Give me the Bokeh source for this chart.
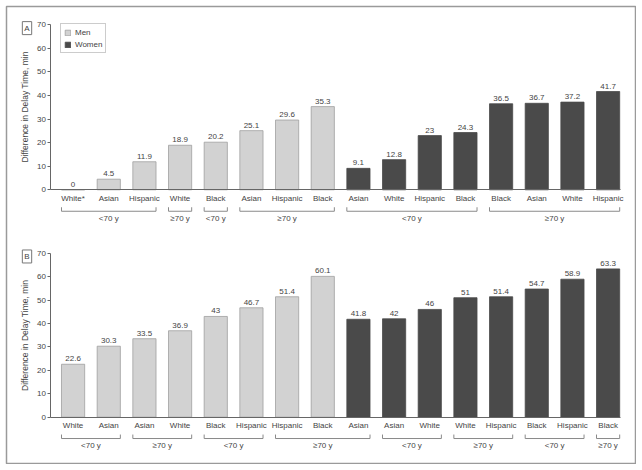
from bokeh.plotting import figure
from bokeh.models import Range1d, FixedTicker, Label, Legend, LegendItem, LinearAxis
from bokeh.core.properties import value
from bokeh.embed import file_html
from bokeh.resources import INLINE

# ---------------- data ----------------
a_categories = ["White*", "Asian", "Hispanic", "White", "Black", "Asian", "Hispanic", "Black",
                "Asian", "White", "Hispanic", "Black", "Black", "Asian", "White", "Hispanic"]
a_men = [0, 4.5, 11.9, 18.9, 20.2, 25.1, 29.6, 35.3]
a_women = [9.1, 12.8, 23, 24.3, 36.5, 36.7, 37.2, 41.7]
a_groups = [(0, 2, "<70 y"), (3, 3, "≥70 y"), (4, 4, "<70 y"), (5, 7, "≥70 y"),
            (8, 11, "<70 y"), (12, 15, "≥70 y")]

b_categories = ["White", "Asian", "Asian", "White", "Black", "Hispanic", "Hispanic", "Black",
                "Asian", "Asian", "White", "White", "Hispanic", "Black", "Hispanic", "Black"]
b_men = [22.6, 30.3, 33.5, 36.9, 43, 46.7, 51.4, 60.1]
b_women = [41.8, 42, 46, 51, 51.4, 54.7, 58.9, 63.3]
b_groups = [(0, 1, "<70 y"), (2, 3, "≥70 y"), (4, 5, "<70 y"), (6, 8, "≥70 y"),
            (9, 10, "<70 y"), (11, 12, "≥70 y"), (13, 14, "<70 y"), (15, 15, "≥70 y")]

y_ticks = [0, 10, 20, 30, 40, 50, 60, 70]
y_title = "Difference in Delay Time, min"

FONT = "'Liberation Sans Narrow', 'Liberation Sans', sans-serif"
FS = "8px"
TXT = "#444444"
AXC = "#666666"
LIGHT = "#d2d2d2"
LIGHT_LINE = "#a0a0a0"
DARK = "#4a4a4a"
BW = 0.65

p = figure(width=636, height=464, min_border_left=6, min_border_top=6,
           min_border_right=1, min_border_bottom=1,
           x_range=Range1d(-1.867, 15.768), y_range=Range1d(-19.76, 175.29),
           x_axis_location=None, y_axis_location=None,
           output_backend="svg", toolbar_location=None, tools="")
p.extra_y_ranges = {"a": Range1d(-116.12, 77.77)}
p.title.visible = False
p.grid.visible = False
p.outline_line_color = "#9a9a9a"
p.outline_line_width = 1.5


def panel(tag, rng, categories, men, women, groups):
    kw = {} if rng == "default" else {"y_range_name": rng}
    xm = list(range(len(men)))
    xw = list(range(len(men), len(men) + len(women)))
    rm = p.vbar(x=xm, top=men, width=BW, fill_color=LIGHT, line_color=LIGHT_LINE,
                line_width=0.8, **kw)
    rw = p.vbar(x=xw, top=women, width=BW, fill_color=DARK, line_color=DARK,
                line_width=0.8, **kw)

    vals = men + women
    p.text(x=xm + xw, y=vals, text=[("%g" % v) for v in vals], text_align="center",
           text_baseline="bottom", y_offset=-3, text_font=value(FONT), text_font_size=FS,
           text_color=TXT, **kw)

    # brackets and group labels
    bx0, bx1, by0, by1, gx, gt = [], [], [], [], [], []
    yb, yt, yl = -9.1, -7.4, -12.1
    for s, e, name in groups:
        l, r = s - BW / 2, e + BW / 2
        bx0 += [l, l, r]
        bx1 += [r, l, r]
        by0 += [yb, yb, yb]
        by1 += [yb, yt, yt]
        gx.append((s + e) / 2)
        gt.append(name)
    p.segment(x0=bx0, y0=by0, x1=bx1, y1=by1, line_color="#8a8a8a", line_width=1, **kw)
    p.text(x=gx, y=[yl] * len(gx), text=gt, text_align="center", text_baseline="middle",
           text_font=value(FONT), text_font_size=FS, text_color=TXT, **kw)

    # x axis at y = 0
    xa = LinearAxis(fixed_location=0, bounds=(-0.62, 15.36),
                    ticker=FixedTicker(ticks=list(range(len(categories)))),
                    major_label_overrides={i: c for i, c in enumerate(categories)},
                    major_tick_line_color=None, minor_tick_line_color=None,
                    major_tick_out=0, major_tick_in=0, major_label_standoff=4,
                    axis_line_color=AXC, major_label_text_font=FONT,
                    major_label_text_font_size=FS, major_label_text_color=TXT, **kw)
    p.add_layout(xa, "below")

    # y axis at left of bars
    ya = LinearAxis(fixed_location=-0.62, bounds=(0, 70), ticker=FixedTicker(ticks=y_ticks),
                    minor_tick_line_color=None, major_tick_out=3, major_tick_in=0,
                    major_label_standoff=2, axis_line_color=AXC, major_tick_line_color=AXC,
                    major_label_text_font=FONT, major_label_text_font_size=FS,
                    major_label_text_color=TXT, axis_label=y_title,
                    axis_label_text_font=FONT, axis_label_text_font_size="8.5px",
                    axis_label_text_font_style="normal", axis_label_text_color=TXT,
                    axis_label_standoff=4, **kw)
    p.add_layout(ya, "left")

    p.add_layout(Label(x=-1.292, y=68.6, text=tag, text_align="center", text_baseline="middle",
                       text_font=FONT, text_font_size=FS, text_color=TXT,
                       border_line_color="#777777", border_line_width=1,
                       background_fill_color="white", padding=2, **kw))
    return rm, rw


rm, rw = panel("A", "a", a_categories, a_men, a_women, a_groups)
panel("B", "default", b_categories, b_men, b_women, b_groups)

lg = Legend(items=[LegendItem(label="Men", renderers=[rm]),
                   LegendItem(label="Women", renderers=[rw])],
            location=(54, 410), padding=3, spacing=2, margin=0,
            glyph_width=7, glyph_height=7, label_height=10, label_standoff=4,
            label_text_font=FONT, label_text_font_size=FS, label_text_color=TXT,
            border_line_color="#999999", border_line_width=1,
            background_fill_color="white")
p.add_layout(lg, "center")

open("out.html", "w").write(file_html(p, INLINE))
